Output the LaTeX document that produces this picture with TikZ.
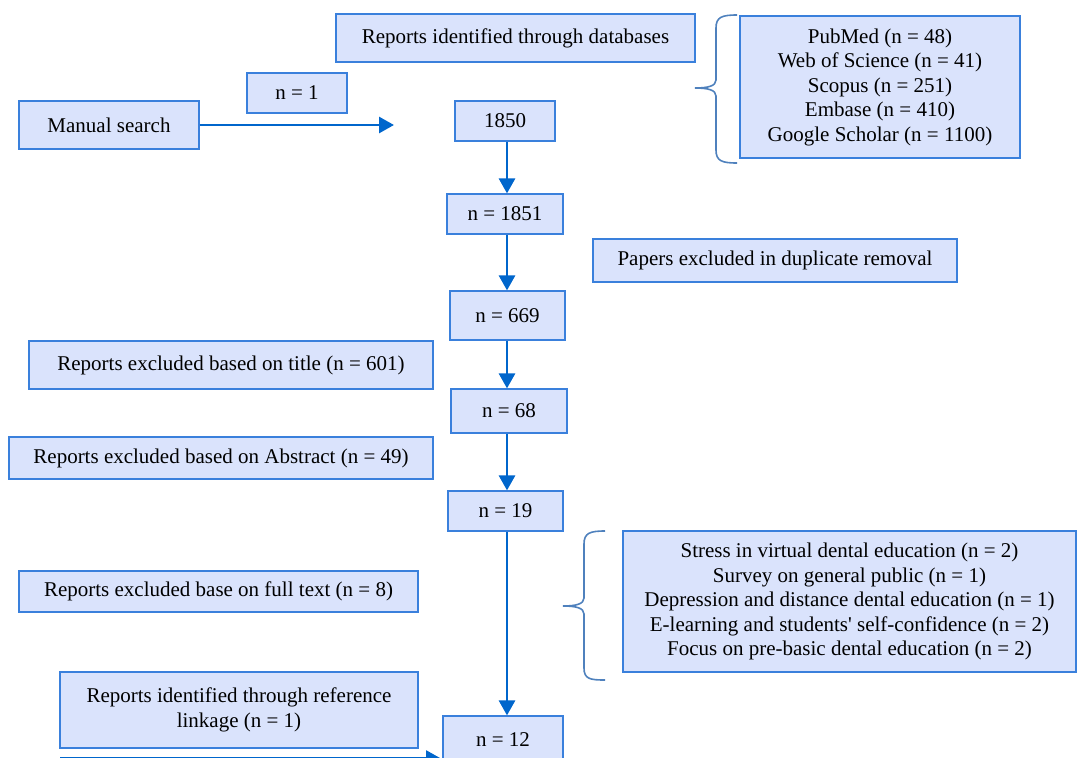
\documentclass[tikz,border=0pt]{standalone}
\usepackage{fontspec}
\setmainfont{Liberation Serif}
\usetikzlibrary{arrows.meta}
\definecolor{boxfill}{RGB}{218,227,252}
\definecolor{boxline}{RGB}{58,128,220}
\definecolor{flowblue}{RGB}{0,102,204}
\definecolor{bracecol}{RGB}{79,129,189}

\begin{document}
\begin{tikzpicture}[x=1pt,y=-1pt,
    box/.style={draw=boxline,fill=boxfill,line width=1.2pt,inner sep=0pt,align=center,
      font=\fontsize{21}{24.5}\selectfont},
    flow/.style={draw=flowblue,line width=2.8pt,-{Triangle[length=15pt,width=16pt]}},
    brc/.style={draw=bracecol,line width=1.6pt}]
\useasboundingbox (0,0) rectangle (1077,758);
\node[box,minimum width=359,minimum height=48] (dbs) at (515.5,38) {Reports identified through databases};
\node[box,minimum width=280,minimum height=142] (dblist) at (880,87) {PubMed (n = 48)\\Web of Science (n = 41)\\Scopus (n = 251)\\Embase (n = 410)\\Google Scholar (n = 1100)};
\node[box,minimum width=100,minimum height=40] (nOne) at (297,93) {n = 1};
\node[box,minimum width=180,minimum height=48] (manual) at (109,125) {Manual search};
\node[box,minimum width=100,minimum height=40] (n1850) at (505,121) {1850};
\node[box,minimum width=116,minimum height=40] (n1851) at (505,214) {n = 1851};
\node[box,minimum width=364,minimum height=43] (dup) at (775,260.5) {Papers excluded in duplicate removal};
\node[box,minimum width=115,minimum height=49] (n669) at (507.5,315.5) {n = 669};
\node[box,minimum width=404,minimum height=48] (title) at (231,365) {Reports excluded based on title (n = 601)};
\node[box,minimum width=116,minimum height=44] (n68) at (509,411) {n = 68};
\node[box,minimum width=424,minimum height=42] (abstract) at (221,458) {Reports excluded based on Abstract (n = 49)};
\node[box,minimum width=115,minimum height=40] (n19) at (505.5,511) {n = 19};
\node[box,minimum width=399,minimum height=41] (fulltext) at (218.5,591.5) {Reports excluded base on full text (n = 8)};
\node[box,minimum width=453,minimum height=141] (reasons) at (849.5,601.5) {Stress in virtual dental education (n = 2)\\Survey on general public (n = 1)\\Depression and distance dental education (n = 1)\\E-learning and students\textquotesingle{} self-confidence (n = 2)\\Focus on pre-basic dental education (n = 2)};
\node[box,minimum width=358,minimum height=76] (reflink) at (239,710) {Reports identified through reference\\linkage (n = 1)};
\node[box,minimum width=120,minimum height=48] (n12) at (503,740) {n = 12};
\coordinate (spine) at (507,0);
\coordinate (dbhit) at (394,125);
\coordinate (refstart) at (60,758.5);
\coordinate (refend) at (441,758.5);
\draw[flow] (manual) -- (dbhit);
\draw[flow] (n1850.south -| spine) -- (n1851.north -| spine);
\draw[flow] (n1851.south -| spine) -- (n669.north -| spine);
\draw[flow] (n669.south -| spine) -- (n68.north -| spine);
\draw[flow] (n68.south -| spine) -- (n19.north -| spine);
\draw[flow] (n19.south -| spine) -- (n12.north -| spine);
\draw[flow] (refstart) -- (refend);
\draw[brc] (737,15) .. controls (722,15) and (716,17) .. (716,28) -- (716,80)
  .. controls (716,86) and (708,88) .. (695,88)
  .. controls (708,88) and (716,90) .. (716,96) -- (716,150)
  .. controls (716,161) and (722,163) .. (737,163);
\draw[brc] (605,531) .. controls (590,531) and (584,533) .. (584,544) -- (584,598)
  .. controls (584,604) and (576,606) .. (563,606)
  .. controls (576,606) and (584,608) .. (584,614) -- (584,668)
  .. controls (584,679) and (590,680) .. (605,680);
\end{tikzpicture}
\end{document}
